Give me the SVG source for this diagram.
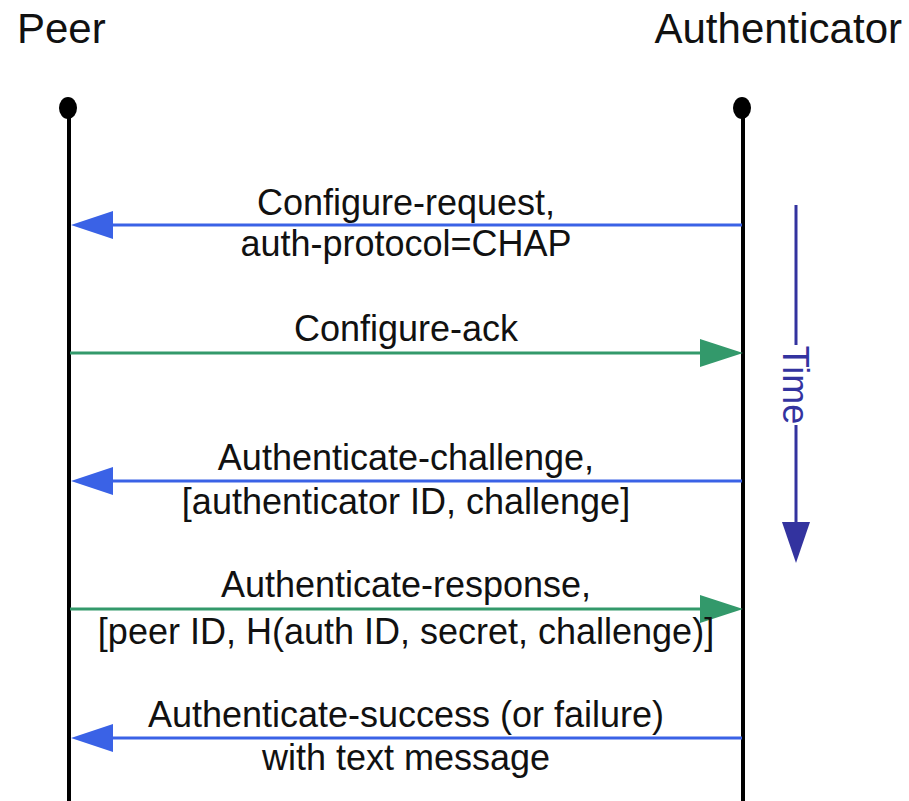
<svg xmlns="http://www.w3.org/2000/svg" width="909" height="801" viewBox="0 0 909 801">
<style>
.t{font-family:"Liberation Sans",Arial,sans-serif;font-size:36px;fill:#111;text-anchor:middle}
.h{font-family:"Liberation Sans",Arial,sans-serif;font-size:42px;fill:#111}
.life{stroke:#000;stroke-width:4;fill:none}
.blue{stroke:#3a62e6;stroke-width:3;fill:none}
.green{stroke:#33996b;stroke-width:3;fill:none}
.bh{fill:#3a62e6}
.gh{fill:#33996b}
</style>
<rect width="909" height="801" fill="#fff"/>
<g id="peer">
<text class="h" x="17" y="43">Peer</text>
<line class="life" x1="69" y1="108" x2="69" y2="801"/>
<ellipse cx="68" cy="108" rx="9" ry="11" fill="#000"/>
</g>
<g id="authenticator">
<text class="h" x="902" y="43" text-anchor="end">Authenticator</text>
<line class="life" x1="743" y1="108" x2="743" y2="801"/>
<ellipse cx="742" cy="108" rx="9" ry="11" fill="#000"/>
</g>
<g id="time">
<line x1="796" y1="205" x2="796" y2="345" stroke="#33339f" stroke-width="3"/>
<line x1="796" y1="425" x2="796" y2="524" stroke="#33339f" stroke-width="3"/>
<polygon points="782,522 810,522 796,563" fill="#33339f"/>
<text transform="translate(783,385) rotate(90)" font-family="Liberation Sans, Arial, sans-serif" font-size="36" fill="#33339f" text-anchor="middle">Time</text>
</g>
<g id="connectors">
<g id="m1">
<line class="blue" x1="742" y1="225" x2="110" y2="225"/>
<polygon class="bh" points="71,225 113,211 113,239"/>
<text class="t" x="406" y="215">Configure-request,</text>
<text class="t" x="406" y="256">auth-protocol=CHAP</text>
</g>
<g id="m2">
<line class="green" x1="70" y1="353" x2="704" y2="353"/>
<polygon class="gh" points="743,353 700,339 700,367"/>
<text class="t" x="406" y="341">Configure-ack</text>
</g>
<g id="m3">
<line class="blue" x1="742" y1="481" x2="110" y2="481"/>
<polygon class="bh" points="71,481 113,467 113,495"/>
<text class="t" x="406" y="470">Authenticate-challenge,</text>
<text class="t" x="406" y="514">[authenticator ID, challenge]</text>
</g>
<g id="m4">
<line class="green" x1="70" y1="609" x2="704" y2="609"/>
<polygon class="gh" points="743,609 700,595 700,623"/>
<text class="t" x="406" y="597">Authenticate-response,</text>
<text class="t" x="406" y="644">[peer ID, H(auth ID, secret, challenge)]</text>
</g>
<g id="m5">
<line class="blue" x1="742" y1="738" x2="110" y2="738"/>
<polygon class="bh" points="71,738 113,724 113,752"/>
<text class="t" x="406" y="727">Authenticate-success (or failure)</text>
<text class="t" x="406" y="770">with text message</text>
</g>
</g>
</svg>
